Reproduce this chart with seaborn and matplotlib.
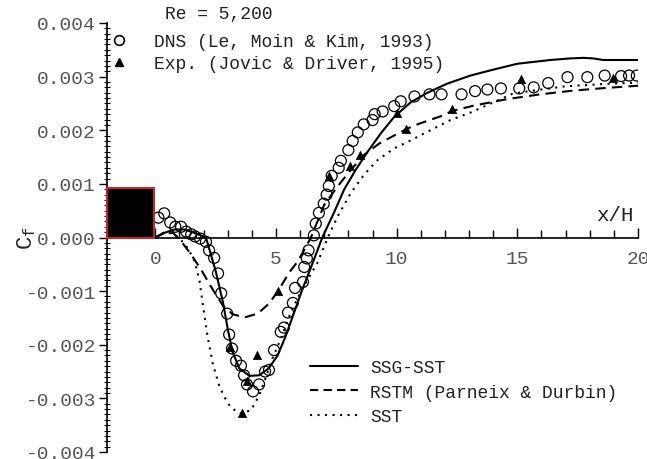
import matplotlib
matplotlib.use("Agg")
import matplotlib.pyplot as plt
import seaborn as sns
import numpy as np
import pandas as pd
from matplotlib.lines import Line2D
from matplotlib.patches import Rectangle

# ---------------- data ----------------
dns_x = [0.13, 0.37, 0.62, 0.83, 1.07, 1.28, 1.49, 1.65, 1.86, 2.10, 2.23, 2.44, 2.60, 2.73,
         2.98, 3.06, 3.18, 3.35, 3.55, 3.68, 3.80, 4.05, 4.30, 4.55, 4.71, 4.92, 5.20, 5.33,
         5.50, 5.70, 5.79, 6.12, 6.17, 6.28, 6.35, 6.57, 6.65, 6.78, 6.98, 7.10, 7.19, 7.31,
         7.60, 7.69, 8.00, 8.18, 8.39, 8.64, 9.00, 9.09, 9.42, 9.90, 10.17, 10.74, 11.36,
         11.86, 12.69, 13.25, 13.76, 14.32, 15.08, 15.68, 16.28, 17.08, 17.90, 18.62, 19.30,
         19.63, 19.95]
dns_cf = [0.00037, 0.00045, 0.00028, 0.00020, 0.00020, 0.00011, 0.00006, 0.00002, -0.00002,
          -0.00008, -0.00024, -0.00038, -0.00067, -0.00104, -0.00142, -0.00181, -0.00207,
          -0.00230, -0.00239, -0.00257, -0.00274, -0.00287, -0.00274, -0.00250, -0.00247,
          -0.00210, -0.00176, -0.00168, -0.00140, -0.00122, -0.00094, -0.00083, -0.00055,
          -0.00039, -0.00024, 0.00004, 0.00026, 0.00046, 0.00063, 0.00080, 0.00096, 0.00115,
          0.00130, 0.00143, 0.00163, 0.00180, 0.00196, 0.00211, 0.00219, 0.00230, 0.00235,
          0.00245, 0.00254, 0.00263, 0.00267, 0.00267, 0.00267, 0.00273, 0.00276, 0.00278,
          0.00278, 0.00280, 0.00288, 0.00299, 0.00299, 0.00302, 0.00301, 0.00302, 0.00302]

exp_x = [3.10, 3.60, 3.78, 4.20, 5.10, 7.20, 8.06, 8.50, 10.00, 10.40, 12.30, 15.17, 18.97]
exp_cf = [-0.00204, -0.00328, -0.00268, -0.00220, -0.00100, 0.00114, 0.00133, 0.00153,
          0.00233, 0.00202, 0.00240, 0.00296, 0.00298]

ssg_x = [0.0, 0.4, 0.8, 1.2, 1.6, 2.1, 2.5, 2.8, 3.0, 3.2, 3.48, 3.9, 4.3, 4.7, 5.07, 5.41,
         5.76, 6.1, 6.5, 6.92, 7.4, 7.82, 8.3, 8.8, 9.34, 9.9, 10.58, 11.28, 12.1, 13.06,
         14.0, 15.0, 16.36, 17.2, 17.73, 18.14, 18.56, 20.0]
ssg_cf = [0.0, 0.00009, 0.00015, 0.00015, 0.00009, 0.0, -0.00062, -0.0012, -0.0017, -0.00213,
          -0.00244, -0.00258, -0.00257, -0.00244, -0.0022, -0.00183, -0.00139, -0.00096,
          -0.0005, 0.0, 0.00046, 0.00089, 0.00126, 0.0016, 0.00194, 0.00225, 0.00252, 0.0027,
          0.00287, 0.00302, 0.00313, 0.00324, 0.00331, 0.00334, 0.00335, 0.00334, 0.00331,
          0.00331]

rstm_x = [0.0, 0.4, 0.75, 1.07, 1.49, 1.9, 2.38, 2.8, 3.2, 3.7, 4.24, 4.72, 5.14, 5.55, 5.9,
          6.45, 7.0, 7.55, 8.1, 8.65, 9.27, 9.89, 10.44, 10.92, 11.82, 12.3, 13.2, 14.57,
          15.95, 17.33, 18.7, 20.0]
rstm_cf = [0.0, 0.0001, 0.00008, -0.00007, -0.00032, -0.0006, -0.00097, -0.00127, -0.00143,
           -0.00149, -0.00142, -0.00123, -0.00096, -0.00065, -0.00045, 0.0, 0.00061, 0.00095,
           0.00126, 0.00154, 0.00175, 0.0019, 0.00203, 0.00212, 0.00226, 0.00236, 0.00246,
           0.00258, 0.00267, 0.00274, 0.00279, 0.00283]

sst_x = [0.0, 0.4, 0.8, 1.07, 1.35, 1.63, 1.83, 1.97, 2.17, 2.38, 2.66, 2.9, 3.14, 3.55, 3.97,
         4.31, 4.59, 4.86, 5.2, 5.62, 6.1, 6.72, 7.15, 7.55, 8.1, 8.65, 9.2, 9.89, 10.58,
         11.4, 12.23, 13.06, 14.8, 15.5, 17.0, 18.5, 20.0]
sst_cf = [0.0, 0.0001, 0.00006, -0.00005, -0.0002, -0.00044, -0.0008, -0.00125, -0.00185,
          -0.00235, -0.00278, -0.003, -0.00318, -0.00328, -0.00322, -0.00294, -0.0026,
          -0.00225, -0.00189, -0.00139, -0.00095, -0.00047, 0.0, 0.00039, 0.00083, 0.00117,
          0.00144, 0.00166, 0.00181, 0.002, 0.00219, 0.00233, 0.00268, 0.00273, 0.00282,
          0.00286, 0.00289]

step_x = [-2.0, -0.05]
step_h = 0.00093

x_major = [0, 5, 10, 15, 20]
y_major = [-0.004, -0.003, -0.002, -0.001, 0.000, 0.001, 0.002, 0.003, 0.004]
y_labels = ["-0.004", "-0.003", "-0.002", "-0.001", "0.000", "0.001", "0.002", "0.003", "0.004"]

# ---------------- style ----------------
sns.set_theme(style="white")
FONT = "Liberation Mono"
plt.rcParams["font.family"] = [FONT, "DejaVu Sans"]
plt.rcParams["mathtext.fontset"] = "custom"
plt.rcParams["mathtext.rm"] = FONT
plt.rcParams["mathtext.it"] = FONT

fig = plt.figure(figsize=(6.47, 4.60), dpi=100)
ax = fig.add_axes([107 / 647, (460 - 453) / 460, (638 - 107) / 647, (453 - 24) / 460])

TXT = "#222222"
TICK = "#555555"

# lines
sns.lineplot(x=ssg_x, y=ssg_cf, ax=ax, color="black", lw=1.5, estimator=None, sort=False)
sns.lineplot(x=rstm_x, y=rstm_cf, ax=ax, color="black", lw=1.5, estimator=None, sort=False,
             linestyle=(0, (5, 3)))
sns.lineplot(x=sst_x, y=sst_cf, ax=ax, color="black", lw=1.5, estimator=None, sort=False,
             linestyle=(0, (1, 2.6)))

# markers
sns.scatterplot(x=dns_x, y=dns_cf, ax=ax, marker="o", s=62, facecolor="none",
                edgecolor="black", linewidth=0.9, zorder=4)
sns.scatterplot(x=exp_x, y=exp_cf, ax=ax, marker="^", s=36, color="black",
                edgecolor="black", linewidth=0.5, zorder=5)

# step block
ax.add_patch(Rectangle((step_x[0], 0), step_x[1] - step_x[0], step_h, facecolor="black",
                       edgecolor="#d62020", linewidth=1.4, zorder=6, clip_on=False))

ax.set_xlim(-2, 20)
ax.set_ylim(-0.004, 0.004)

# spines
for s in ["top", "right"]:
    ax.spines[s].set_visible(False)
ax.spines["bottom"].set_position(("data", 0))
ax.spines["bottom"].set_linewidth(1.2)
ax.spines["left"].set_linewidth(1.2)
ax.spines["bottom"].set_color("black")
ax.spines["left"].set_color("black")

ax.set_xticks(x_major)
ax.set_xticks(np.arange(-2, 21, 1), minor=True)
ax.set_xticklabels([str(v) for v in x_major])
ax.set_yticks(y_major)
ax.set_yticklabels(y_labels)
ax.set_yticks(np.arange(-0.004, 0.00401, 0.0001), minor=True)

ax.tick_params(bottom=True, left=True, which="both")
ax.tick_params(axis="x", which="both", direction="in", color="black", width=1.0)
ax.tick_params(axis="x", which="major", length=7, pad=9, labelsize=14, labelcolor=TICK)
ax.tick_params(axis="x", which="minor", length=6)
ax.tick_params(axis="y", which="major", direction="out", length=6, width=1.0, color="black",
               pad=2, labelsize=14, labelcolor=TICK)
ax.tick_params(axis="y", which="minor", direction="inout", length=5, width=0.8, color="black")
ax.set_xlabel("")
ax.set_ylabel("")

# axis labels
ax.text(19.8, 0.00042, "x/H", ha="right", va="center", fontsize=15, color=TXT)
fig.text(27 / 647, 1 - 238 / 460, r"$\mathrm{C_f}$", rotation=90, ha="center", va="center",
         fontsize=16, color=TXT)

# top legend
ax.text(0.41, 0.00418, "Re = 5,200", ha="left", va="center", fontsize=13, color=TXT,
        clip_on=False)
h1 = [Line2D([], [], ls="none", marker="o", ms=7, mfc="none", mec="black", mew=1.2),
      Line2D([], [], ls="none", marker="^", ms=6, mfc="black", mec="black")]
leg1 = ax.legend(h1, ["DNS (Le, Moin & Kim, 1993)", "Exp. (Jovic & Driver, 1995)"],
                 loc="upper left", bbox_to_anchor=(3 / 531, (453 - 34) / 429), frameon=False,
                 borderpad=0, borderaxespad=0, handlelength=1.0, handletextpad=1.45,
                 labelspacing=0.28, fontsize=13, labelcolor=TXT)
ax.add_artist(leg1)

# bottom legend
h2 = [Line2D([], [], color="black", lw=1.5),
      Line2D([], [], color="black", lw=1.5, ls=(0, (4, 2.5))),
      Line2D([], [], color="black", lw=1.5, ls=(0, (1, 2.6)))]
ax.legend(h2, ["SSG-SST", "RSTM (Parneix & Durbin)", "SST"], loc="upper left",
          bbox_to_anchor=((310 - 107) / 531, (453 - 360) / 429), frameon=False, borderpad=0,
          borderaxespad=0, handlelength=2.65, handletextpad=0.67, labelspacing=0.42,
          fontsize=13, labelcolor=TXT)

fig.savefig("out.png", dpi=100)
